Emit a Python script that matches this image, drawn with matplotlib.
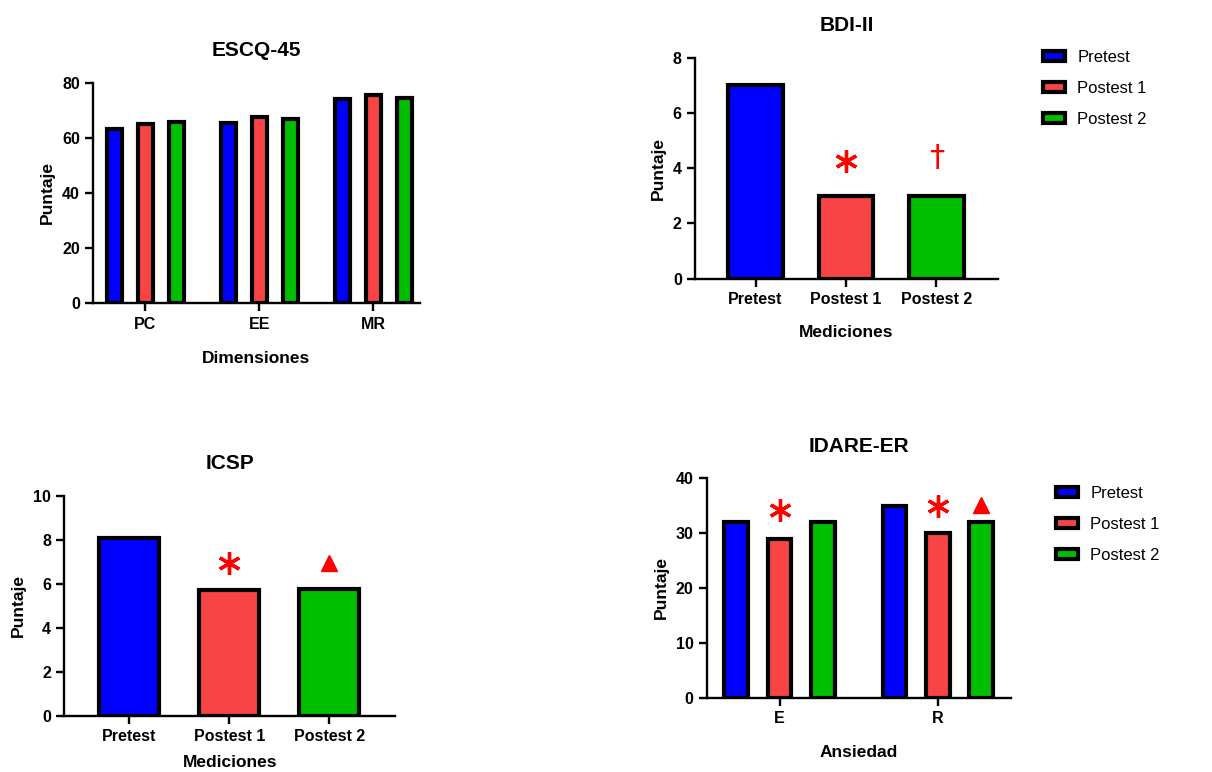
import numpy as np
import matplotlib
matplotlib.use("Agg")
import matplotlib.pyplot as plt
from matplotlib.patches import Patch

plt.rcParams["font.family"] = ["Liberation Sans", "DejaVu Sans"]

# =====================================================
# DATA
# =====================================================

series = ["Pretest", "Postest 1", "Postest 2"]
colors = ["#0000FF", "#F84444", "#00BF00"]

escq_dims = ["PC", "EE", "MR"]
escq_pre = [63.3, 65.2, 74.0]
escq_post1 = [65.0, 67.7, 75.6]
escq_post2 = [65.7, 66.8, 74.5]

bdi_values = [7, 3, 3]

icsp_values = [8.1, 5.7, 5.75]

idare_dims = ["E", "R"]
idare_pre = [32, 35]
idare_post1 = [29, 30]
idare_post2 = [32, 32]

# significance marks: (x position, y value, mark)
bdi_marks = [(1, 4.25, "*"), (2, 4.4, "dagger")]
icsp_marks = [(1, 6.95, "*"), (2, 6.95, "^")]
idare_marks = [(0.0, 34.3, "*"), (1.0, 35.0, "*"), (1.274, 35.1, "^")]

EDGE = 3


def style_axes(ax, title, xlabel, xpad):
    ax.set_title(title, fontsize=15, fontweight="bold", pad=19)
    ax.set_ylabel("Puntaje", fontsize=12.5, fontweight="bold", labelpad=5)
    ax.set_xlabel(xlabel, fontsize=12.5, fontweight="bold", labelpad=xpad)
    for s in ["top", "right"]:
        ax.spines[s].set_visible(False)
    for s in ["left", "bottom"]:
        ax.spines[s].set_linewidth(1.7)
    ax.tick_params(axis="both", width=1.7, length=6, labelsize=11.5)
    for lbl in ax.get_xticklabels() + ax.get_yticklabels():
        lbl.set_fontweight("bold")


def draw_marks(ax, marks):
    for x, y, m in marks:
        if m == "*":
            ax.plot(x, y, marker=(6, 2, 0), color="red", markersize=16,
                    markeredgewidth=2.4, clip_on=False)
        elif m == "^":
            ax.plot(x, y, marker="^", color="red", markersize=12,
                    clip_on=False)
        else:
            ax.text(x, y, "\u2020", color="red", fontsize=22,
                    ha="center", va="center", family="DejaVu Sans")


fig = plt.figure(figsize=(12.12, 7.72), dpi=100)

# =====================================================
# ESCQ-45
# =====================================================

ax1 = fig.add_axes([0.0767, 0.6071, 0.2698, 0.2858])
x = np.arange(len(escq_dims))
for i, vals in enumerate([escq_pre, escq_post1, escq_post2]):
    ax1.bar(x + (i - 1) * 0.273, vals, width=0.13, color=colors[i],
            edgecolor="black", linewidth=EDGE)
ax1.set_xticks(x)
ax1.set_xticklabels(escq_dims)
ax1.set_xlim(-0.46, 2.41)
ax1.set_ylim(0, 80)
ax1.set_yticks([0, 20, 40, 60, 80])
style_axes(ax1, "ESCQ-45", "Dimensiones", 14)

# =====================================================
# BDI-II
# =====================================================

ax2 = fig.add_axes([0.5734, 0.639, 0.25, 0.2863])
x = np.arange(len(series))
ax2.bar(x, bdi_values, width=0.6, color=colors, edgecolor="black",
        linewidth=EDGE)
ax2.set_xticks(x)
ax2.set_xticklabels(series)
ax2.set_xlim(-0.67, 2.68)
ax2.set_ylim(0, 8)
ax2.set_yticks([0, 2, 4, 6, 8])
draw_marks(ax2, bdi_marks)
style_axes(ax2, "BDI-II", "Mediciones", 13)

# =====================================================
# ICSP
# =====================================================

ax3 = fig.add_axes([0.0531, 0.0725, 0.2729, 0.2854])
ax3.bar(x, icsp_values, width=0.6, color=colors, edgecolor="black",
        linewidth=EDGE)
ax3.set_xticks(x)
ax3.set_xticklabels(series)
ax3.set_xlim(-0.65, 2.66)
ax3.set_ylim(0, 10)
ax3.set_yticks([0, 2, 4, 6, 8, 10])
draw_marks(ax3, icsp_marks)
style_axes(ax3, "ICSP", "Mediciones", 8)

# =====================================================
# IDARE-ER
# =====================================================

ax4 = fig.add_axes([0.5831, 0.0963, 0.2508, 0.2842])
x = np.arange(len(idare_dims))
for i, vals in enumerate([idare_pre, idare_post1, idare_post2]):
    ax4.bar(x + (i - 1) * 0.274, vals, width=0.15, color=colors[i],
            edgecolor="black", linewidth=EDGE)
ax4.set_xticks(x)
ax4.set_xticklabels(idare_dims)
ax4.set_xlim(-0.46, 1.46)
ax4.set_ylim(0, 40)
ax4.set_yticks([0, 10, 20, 30, 40])
draw_marks(ax4, idare_marks)
style_axes(ax4, "IDARE-ER", "Ansiedad", 14)

# =====================================================
# LEGENDS
# =====================================================

handles = [Patch(facecolor=c, edgecolor="black", linewidth=3, label=s)
           for c, s in zip(colors, series)]

for anchor in [(1043 / 1212, 1 - 50 / 772), (1056 / 1212, 1 - 486 / 772)]:
    fig.legend(handles=handles, loc="upper left", bbox_to_anchor=anchor,
               frameon=False, fontsize=12, handlelength=1.3,
               handleheight=0.55, handletextpad=0.75, labelspacing=0.95,
               borderaxespad=0, borderpad=0)

fig.savefig("out.png", dpi=100)
